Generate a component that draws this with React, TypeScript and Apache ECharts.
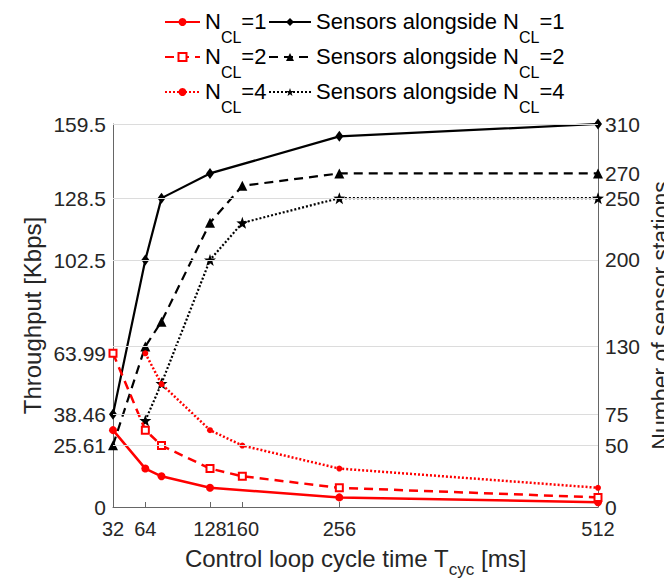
import React, { useEffect, useRef } from "react";
import * as echarts from "echarts";

// Throughput series (left axis, Kbps)
const tcycN1 = [32, 64, 80, 128, 256, 512];
const thrN1 = [32, 16, 12.8, 8, 4, 2];
const tcycN2 = [32, 64, 80, 128, 160, 256, 512];
const thrN2 = [63.99, 32, 25.6, 16, 12.8, 8, 4];
const tcycN4 = [64, 80, 128, 160, 256, 512];
const thrN4 = [63.99, 51.2, 32, 25.6, 16, 8];

// Sensor station series (right axis)
const sensN1 = [75, 200, 250, 270, 300, 310];
const sensN2 = [50, 130, 150, 230, 260, 270, 270];
const sensN4 = [70, 100, 200, 230, 250, 250];

// Tick labels
const xTicks = [32, 64, 128, 160, 256, 512];
const leftTicks = [0, 25.61, 38.46, 63.99, 102.5, 128.5, 159.5];
const rightTicks = [0, 50, 75, 130, 200, 250, 270, 310];
const gridValues = [50, 75, 130, 200, 250, 310];

const seriesNames = {
  n1: "N_CL=1",
  n2: "N_CL=2",
  n4: "N_CL=4",
  s1: "Sensors alongside N_CL=1",
  s2: "Sensors alongside N_CL=2",
  s4: "Sensors alongside N_CL=4",
};

const FONT = "Liberation Sans, Arial, Helvetica, sans-serif";
const STAR =
  "path://M0,-10L2.35,-3.24L9.51,-3.09L3.8,1.24L5.88,8.09L0,4L-5.88,8.09L-3.8,1.24L-9.51,-3.09L-2.35,-3.24Z";

const pairs = (xs: number[], ys: number[]) => xs.map((x, i) => [x, ys[i]]);

const richName = (name: string) => {
  const [a, b] = name.split("_CL");
  return `{n|${a}}{s|CL}{n|${b}}`;
};

const rich = {
  n: { fontSize: 22, fontFamily: FONT, color: "#000", verticalAlign: "top", lineHeight: 24 },
  s: { fontSize: 16, fontFamily: FONT, color: "#000", verticalAlign: "top", lineHeight: 17, padding: [19, 0, 0, 0] },
};

export default function App() {
  const ref = useRef<HTMLDivElement>(null);
  useEffect(() => {
    if (!ref.current) return;
    const chart = echarts.init(ref.current, undefined, { renderer: "svg" });
    const red = "#ff0000";
    const black = "#000000";
    const option: any = {
      animation: false,
      backgroundColor: "#ffffff",
      textStyle: { fontFamily: FONT },
      grid: { left: 105, right: 79, top: 116, bottom: 83, containLabel: false },
      legend: [
        {
          data: [seriesNames.n1, seriesNames.n2, seriesNames.n4],
          orient: "vertical",
          left: 156,
          top: 2,
          itemWidth: 35,
          itemHeight: 10,
          itemGap: 0,
          padding: 0,
          formatter: richName,
          textStyle: { rich },
        },
        {
          data: [seriesNames.s1, seriesNames.s2, seriesNames.s4],
          orient: "vertical",
          left: 260,
          top: 2,
          itemWidth: 42,
          itemHeight: 10,
          itemGap: 0,
          padding: 0,
          formatter: richName,
          textStyle: { rich },
        },
      ],
      xAxis: {
        type: "value",
        min: 32,
        max: 512,
        name: "{a|Control loop cycle time T}{b|cyc}{a| [ms]}",
        nameLocation: "middle",
        nameGap: 39,
        nameMoveOverlap: false,
        nameTextStyle: {
          rich: {
            a: { fontSize: 24, fontFamily: FONT, color: "#262626", verticalAlign: "top", lineHeight: 26 },
            b: { fontSize: 17, fontFamily: FONT, color: "#262626", verticalAlign: "top", lineHeight: 18, padding: [15, 0, 0, 0] },
          },
        },
        axisLine: { show: true, lineStyle: { color: "#666", width: 1 } },
        axisTick: { show: true, inside: true, length: 5, customValues: xTicks, lineStyle: { color: "#666" } },
        axisLabel: { customValues: xTicks, fontSize: 20, color: "#262626", margin: 12, fontFamily: FONT },
        splitLine: { show: false },
      },
      yAxis: [
        {
          type: "value",
          min: 0,
          max: 159.5,
          position: "left",
          name: "Throughput [Kbps]",
          nameLocation: "middle",
          nameRotate: 90,
          nameGap: 69,
          nameMoveOverlap: false,
          nameTextStyle: { fontSize: 24, color: "#262626", fontFamily: FONT },
          axisLine: { show: true, lineStyle: { color: "#666", width: 1 } },
          axisTick: { show: false },
          axisLabel: {
            customValues: leftTicks,
            formatter: (v: number) => String(v),
            fontSize: 21,
            color: "#262626",
            margin: 7,
            fontFamily: FONT,
          },
          splitLine: { show: false },
        },
        {
          type: "value",
          min: 0,
          max: 310,
          position: "right",
          name: "Number of sensor stations",
          nameLocation: "middle",
          nameRotate: 90,
          nameGap: 51,
          nameMoveOverlap: false,
          nameTextStyle: { fontSize: 23, color: "#262626", fontFamily: FONT },
          axisLine: { show: true, lineStyle: { color: "#666", width: 1 } },
          axisTick: { show: false },
          axisLabel: {
            customValues: rightTicks,
            formatter: (v: number) => String(v),
            fontSize: 21,
            color: "#262626",
            margin: 7,
            fontFamily: FONT,
          },
          splitLine: { show: false },
        },
      ],
      series: [
        {
          name: "grid",
          type: "line",
          yAxisIndex: 1,
          data: [],
          z: 1,
          silent: true,
          markLine: {
            silent: true,
            symbol: "none",
            label: { show: false },
            lineStyle: { color: "#dcdcdc", width: 1, type: "solid" },
            data: gridValues.map((v) => ({ yAxis: v })),
          },
        },
        {
          name: seriesNames.n1,
          type: "line",
          yAxisIndex: 0,
          data: pairs(tcycN1, thrN1),
          z: 3,
          symbol: "circle",
          symbolSize: 8,
          lineStyle: { color: red, width: 2.5, type: "solid" },
          itemStyle: { color: red },
        },
        {
          name: seriesNames.n2,
          type: "line",
          yAxisIndex: 0,
          data: pairs(tcycN2, thrN2),
          z: 3,
          symbol: "emptyRect",
          symbolSize: 7,
          lineStyle: { color: red, width: 2.5, type: [9, 6] },
          itemStyle: { color: red, borderColor: red, borderWidth: 2 },
        },
        {
          name: seriesNames.n4,
          type: "line",
          yAxisIndex: 0,
          data: pairs(tcycN4, thrN4),
          z: 3,
          symbol: "circle",
          symbolSize: 6,
          lineStyle: { color: red, width: 2.5, type: [2, 2] },
          itemStyle: { color: red },
        },
        {
          name: seriesNames.s1,
          type: "line",
          yAxisIndex: 1,
          data: pairs(tcycN1, sensN1),
          z: 2,
          symbol: "diamond",
          symbolSize: [8, 11],
          lineStyle: { color: black, width: 2.2, type: "solid" },
          itemStyle: { color: black },
        },
        {
          name: seriesNames.s2,
          type: "line",
          yAxisIndex: 1,
          data: pairs(tcycN2, sensN2),
          z: 2,
          symbol: "triangle",
          symbolSize: 10,
          lineStyle: { color: black, width: 2.2, type: [9, 6] },
          itemStyle: { color: black },
        },
        {
          name: seriesNames.s4,
          type: "line",
          yAxisIndex: 1,
          data: pairs(tcycN4, sensN4),
          z: 2,
          symbol: STAR,
          symbolSize: 12,
          lineStyle: { color: black, width: 2.2, type: [2, 2] },
          itemStyle: { color: black },
        },
      ],
    };
    chart.setOption(option);
    return () => chart.dispose();
  }, []);
  return <div ref={ref} style={{ width: 672, height: 582 }} />;
}
